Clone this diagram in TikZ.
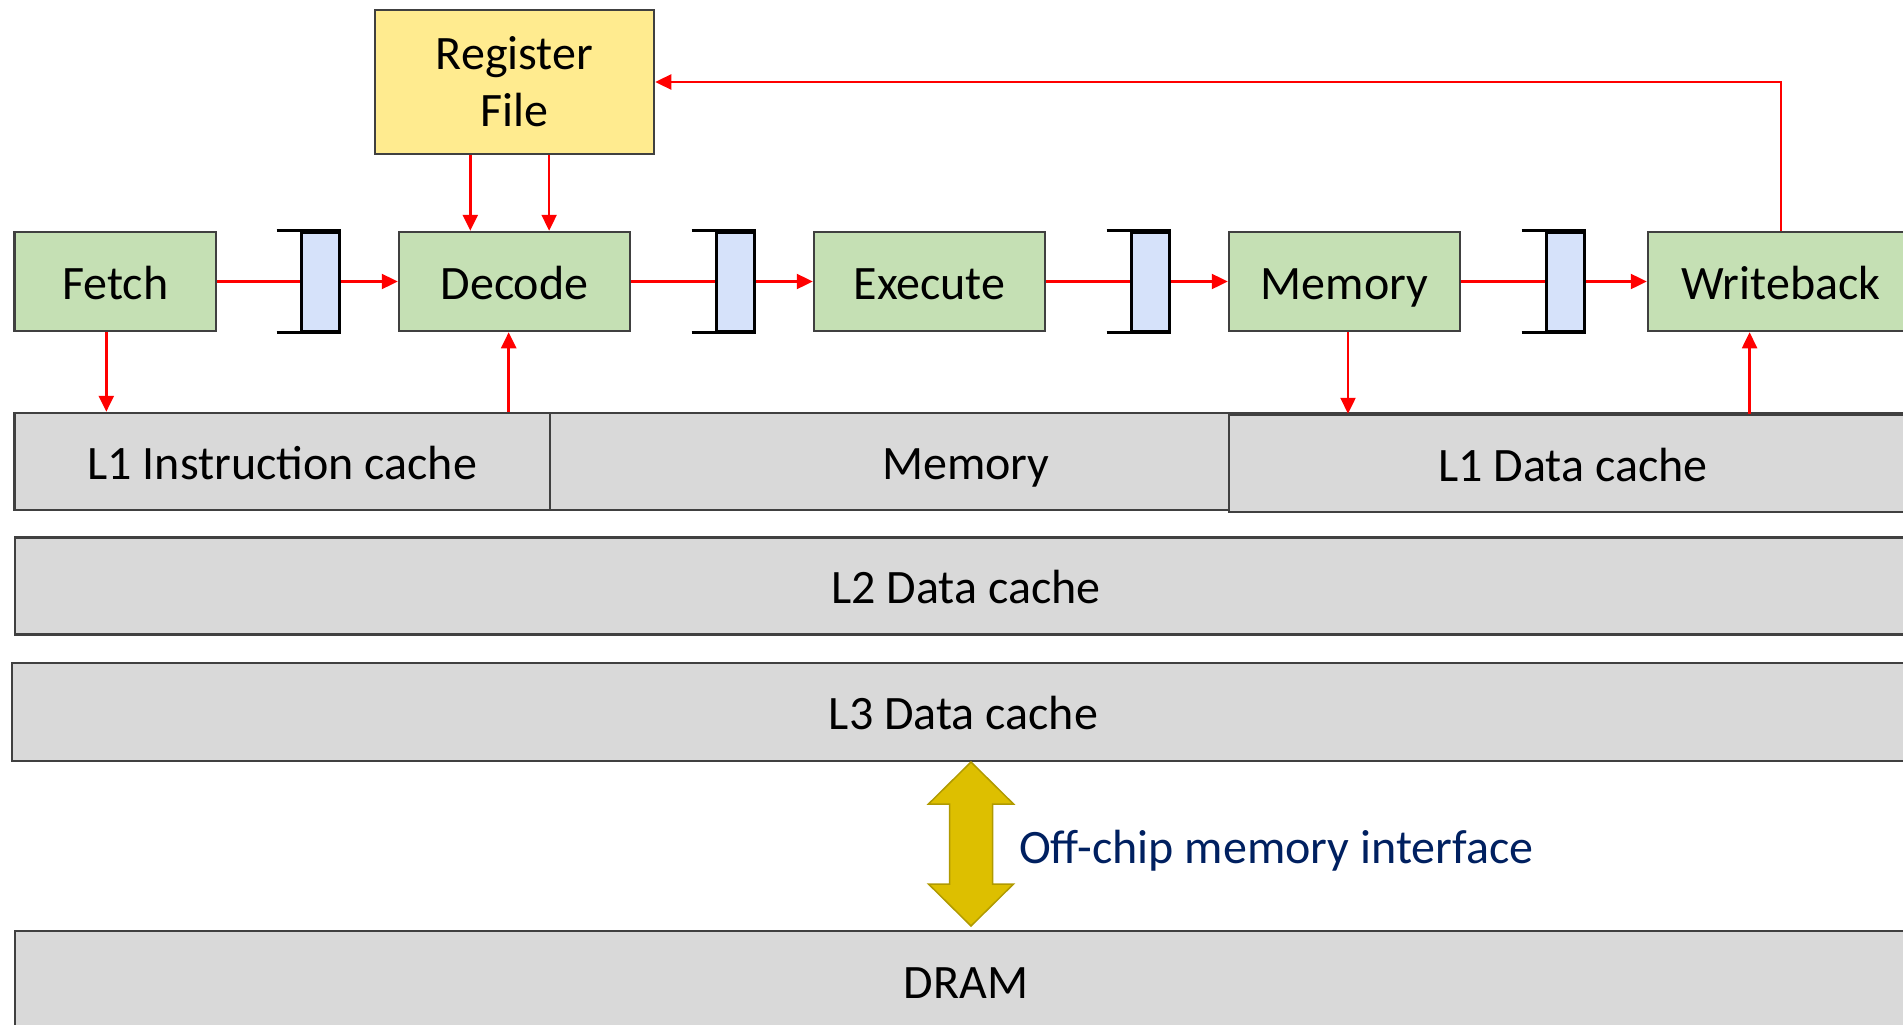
\documentclass[tikz,border=0pt]{standalone}
\usepackage{fontspec}
\setmainfont{Carlito}
\usetikzlibrary{arrows.meta,calc}

\definecolor{stagegreen}{HTML}{C5E0B4}
\definecolor{rfyellow}{HTML}{FFEB8F}
\definecolor{latchblue}{HTML}{D6E2FA}
\definecolor{tiergray}{HTML}{D9D9D9}
\definecolor{boxline}{HTML}{404040}
\definecolor{sigred}{HTML}{FF0000}
\definecolor{arrowgold}{HTML}{DDBF00}
\definecolor{arrowedge}{HTML}{B09A00}
\definecolor{labelnavy}{HTML}{002060}

\tikzset{
  bigtext/.style={font=\fontsize{48}{57}\selectfont},
  stage/.style={draw=boxline, fill=stagegreen, line width=2.5pt, inner sep=0pt,
    minimum height=99pt, bigtext, text height=35pt, text depth=0pt},
  regfile/.style={draw=boxline, fill=rfyellow, line width=2.5pt, inner sep=0pt,
    minimum width=279pt, minimum height=144pt, bigtext, align=center},
  latch/.style={draw=black, fill=latchblue, line width=3pt, inner sep=0pt,
    minimum width=38pt, minimum height=99pt},
  bracket/.style={draw=black, line width=3pt},
  tier/.style={draw=boxline, fill=tiergray, line width=2.5pt, inner sep=0pt,
    bigtext, text height=35pt, text depth=0pt},
  wire/.style={draw=sigred, line width=2.4pt},
  wirearrow/.style={wire, -{Triangle[length=16pt,width=15pt]}},
}

\begin{document}
\begin{tikzpicture}[x=1pt,y=-1pt]
\useasboundingbox (0,0) rectangle (1903,1025);
\clip (0,0) rectangle (1903,1025);

% memory hierarchy
\node[tier, minimum width=1902pt, minimum height=97pt] (mem) at (966,461.5) {Memory};
\node[tier, minimum width=535.4pt, minimum height=97pt] (l1i) at (282.3,461.5) {L1 Instruction cache};
\node[tier, minimum width=688pt, minimum height=97pt] (l1d) at (1573,463.5) {L1 Data cache};
\node[tier, minimum width=1902pt, minimum height=97pt] (l2) at (966,586) {L2 Data cache};
\node[tier, minimum width=1903pt, minimum height=98pt] (l3) at (963.5,712) {L3 Data cache};
\node[tier, minimum width=1902pt, minimum height=99pt] (dram) at (966,980.5) {DRAM};

% pipeline stages
\node[stage, minimum width=201.4pt] (fetch) at (115.3,281.5) {Fetch};
\node[stage, minimum width=231pt] (dec) at (514.5,281.5) {Decode};
\node[stage, minimum width=231pt] (exe) at (929.5,281.5) {Execute};
\node[stage, minimum width=231pt] (memst) at (1344.5,281.5) {Memory};
\node[stage, minimum width=266pt] (wb) at (1781,281.5) {Writeback};

% register file
\node[regfile] (rf) at (514.5,82) {Register\\File};

% pipeline latches
\node[latch] (lat1) at (320,281.5) {};
\node[latch] (lat2) at (735,281.5) {};
\node[latch] (lat3) at (1150,281.5) {};
\node[latch] (lat4) at (1565,281.5) {};
\foreach \l in {lat1,lat2,lat3,lat4} {
  \draw[bracket] ($(\l.north west)+(-23,0)$) -- (\l.north east);
  \draw[bracket] ($(\l.south west)+(-23,0)$) -- (\l.south east);
}

% stage-to-stage flow
\draw[wire] (fetch.east) -- (lat1.west);
\draw[wirearrow] (lat1.east) -- (dec.west);
\draw[wire] (dec.east) -- (lat2.west);
\draw[wirearrow] (lat2.east) -- (exe.west);
\draw[wire] (exe.east) -- (lat3.west);
\draw[wirearrow] (lat3.east) -- (memst.west);
\draw[wire] (memst.east) -- (lat4.west);
\draw[wirearrow] (lat4.east) -- (wb.west);

% register reads and write-back
\coordinate (rfa) at ($(rf.south west)!0.343!(rf.south east)$);
\coordinate (rfb) at ($(rf.south west)!0.623!(rf.south east)$);
\draw[wirearrow] (rfa) -- (rfa |- dec.north);
\draw[wirearrow] (rfb) -- (rfb |- dec.north);
\draw[wirearrow] (wb.north) |- (rf.east);

% cache accesses
\coordinate (fdown) at ($(fetch.south west)!0.456!(fetch.south east)$);
\draw[wirearrow] (fdown) -- (fdown |- l1i.north);
\coordinate (dup) at ($(dec.south west)!0.475!(dec.south east)$);
\draw[wirearrow] (dup |- l1i.north) -- (dup);
\coordinate (mdown) at ($(memst.south west)!0.515!(memst.south east)$);
\draw[wirearrow] (mdown) -- (mdown |- l1d.north);
\coordinate (wup) at ($(wb.south west)!0.383!(wb.south east)$);
\draw[wirearrow] (wup |- l1d.north) -- (wup);

% off-chip interface
\fill[arrowgold, draw=arrowedge, line width=1.5pt]
  (971,762) -- (1013.5,804) -- (992.5,804) -- (992.5,884) -- (1013.5,884)
  -- (971,926) -- (928.5,884) -- (949.5,884) -- (949.5,804) -- (928.5,804) -- cycle;
\node[anchor=base west, bigtext, text=labelnavy, inner sep=0pt] (offchip) at (1019,863) {Off-chip memory interface};
\end{tikzpicture}
\end{document}
